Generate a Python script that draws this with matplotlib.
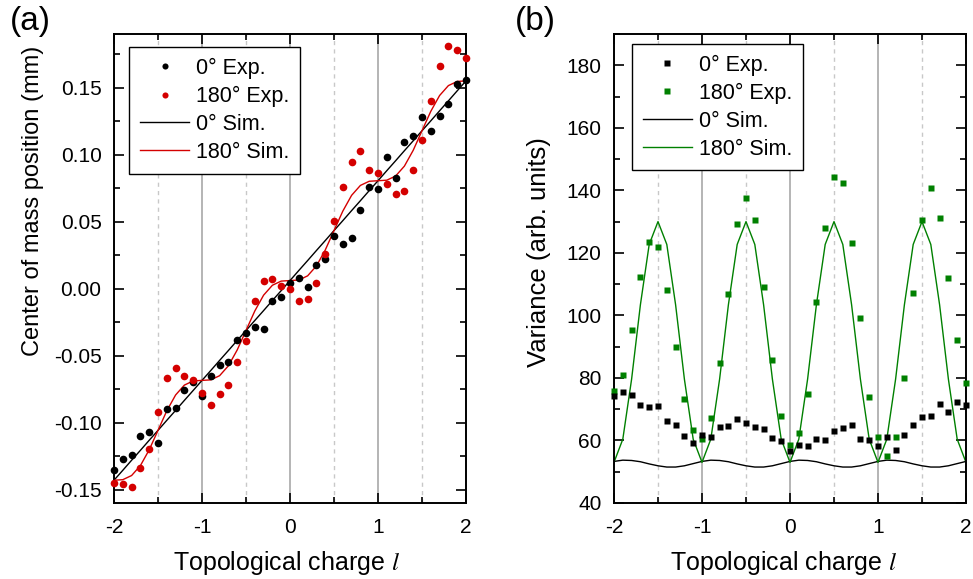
import matplotlib
matplotlib.use("Agg")
import matplotlib.pyplot as plt
from matplotlib.ticker import MultipleLocator, FormatStrFormatter

plt.rcParams['font.family'] = ['Liberation Sans', 'DejaVu Sans']
plt.rcParams['mathtext.fontset'] = 'stix'
plt.rcParams['axes.unicode_minus'] = False

charge = [-2.0, -1.9, -1.8, -1.7, -1.6, -1.5, -1.4, -1.3, -1.2, -1.1,
          -1.0, -0.9, -0.8, -0.7, -0.6, -0.5, -0.4, -0.3, -0.2, -0.1,
          0.0, 0.1, 0.2, 0.3, 0.4, 0.5, 0.6, 0.7, 0.8, 0.9,
          1.0, 1.1, 1.2, 1.3, 1.4, 1.5, 1.6, 1.7, 1.8, 1.9, 2.0]

# Panel (a): center of mass position (mm)
com_exp_0 = [-0.135, -0.127, -0.124, -0.110, -0.107, -0.115, -0.090, -0.089, -0.076, -0.070,
             -0.080, -0.065, -0.057, -0.055, -0.038, -0.033, -0.029, -0.030, -0.009, -0.006,
             0.0045, 0.008, 0.0013, 0.0175, 0.022, 0.039, 0.033, 0.0375, 0.059, 0.076,
             0.0746, 0.098, 0.0826, 0.1095, 0.114, 0.128, 0.1174, 0.129, 0.138, 0.1527, 0.1557]
com_exp_180 = [-0.145, -0.146, -0.148, -0.134, -0.120, -0.092, -0.067, -0.059, -0.065, -0.068,
               -0.078, -0.087, -0.079, -0.072, -0.0545, -0.039, -0.0095, 0.0057, 0.0072, 0.0022,
               -0.0003, -0.0095, -0.008, 0.0045, 0.0257, 0.0507, 0.0761, 0.0948, 0.103, 0.0886,
               0.0863, 0.0781, 0.0709, 0.0726, 0.0886, 0.1107, 0.1403, 0.1659, 0.1808, 0.1781, 0.1722]
com_sim_0 = [-0.1430, -0.1356, -0.1281, -0.1207, -0.1132, -0.1058, -0.0983, -0.0909, -0.0834, -0.0760,
             -0.0685, -0.0611, -0.0536, -0.0462, -0.0387, -0.0313, -0.0238, -0.0164, -0.0089, -0.0015,
             0.0060, 0.0135, 0.0209, 0.0284, 0.0358, 0.0433, 0.0507, 0.0582, 0.0656, 0.0731,
             0.0805, 0.0880, 0.0954, 0.1029, 0.1103, 0.1178, 0.1252, 0.1327, 0.1401, 0.1476, 0.1550]
com_sim_180 = [-0.1430, -0.1426, -0.1395, -0.1321, -0.1203, -0.1058, -0.0912, -0.0794, -0.0720, -0.0689,
               -0.0685, -0.0681, -0.0650, -0.0576, -0.0458, -0.0313, -0.0167, -0.0049, 0.0025, 0.0056,
               0.0060, 0.0064, 0.0095, 0.0169, 0.0287, 0.0433, 0.0578, 0.0696, 0.0770, 0.0801,
               0.0805, 0.0809, 0.0840, 0.0914, 0.1032, 0.1178, 0.1323, 0.1441, 0.1515, 0.1546, 0.1550]

# Panel (b): variance (arb. units)
var_exp_0 = [74.2, 75.5, 74.6, 71.5, 70.8, 71.0, 66.3, 65.0, 61.5, 59.3,
             61.9, 61.0, 64.2, 64.6, 67.0, 65.6, 64.2, 63.6, 60.9, 59.9,
             56.7, 58.6, 58.3, 60.5, 60.0, 62.9, 63.9, 64.9, 60.4, 60.0,
             58.2, 61.0, 56.8, 61.9, 64.9, 67.6, 67.9, 71.6, 69.0, 72.3, 71.4]
var_exp_180 = [75.8, 80.8, 95.3, 112.2, 123.6, 121.9, 108.1, 90.0, 73.4, 63.5,
               60.6, 67.1, 84.7, 106.8, 129.2, 137.7, 130.6, 109.1, 85.8, 67.7,
               58.5, 62.4, 75.0, 104.2, 128.0, 144.4, 142.2, 123.2, 99.2, 73.9,
               61.0, 55.1, 61.0, 80.1, 107.2, 130.6, 140.8, 131.0, 112.1, 92.0, 78.5]
var_sim_0 = [53.3, 53.7, 53.6, 53.2, 52.5, 51.9, 51.5, 51.5, 51.9, 52.6,
             53.3, 53.7, 53.6, 53.2, 52.5, 51.9, 51.5, 51.5, 51.9, 52.6,
             53.3, 53.7, 53.6, 53.2, 52.5, 51.9, 51.5, 51.5, 51.9, 52.6,
             53.3, 53.7, 53.6, 53.2, 52.5, 51.9, 51.5, 51.5, 51.9, 52.6, 53.3]
var_sim_180 = [53.0, 60.4, 79.6, 103.4, 122.7, 130.0, 122.7, 103.4, 79.6, 60.4,
               53.0, 60.4, 79.6, 103.4, 122.7, 130.0, 122.7, 103.4, 79.6, 60.4,
               53.0, 60.4, 79.6, 103.4, 122.7, 130.0, 122.7, 103.4, 79.6, 60.4,
               53.0, 60.4, 79.6, 103.4, 122.7, 130.0, 122.7, 103.4, 79.6, 60.4, 53.0]

labels = ['0° Exp.', '180° Exp.', '0° Sim.', '180° Sim.']
RED = '#d40000'
GREEN = '#008000'
XLABEL = 'Topological charge $\\mathit{l}$'

W, H = 973, 579
fig = plt.figure(figsize=(W / 100, H / 100), dpi=100)
ax1 = fig.add_axes([114 / W, 76 / H, 352 / W, 469 / H])
ax2 = fig.add_axes([614 / W, 76 / H, 352 / W, 469 / H])


def style_axes(ax):
    ax.set_xlim(-2, 2)
    ax.xaxis.set_major_locator(MultipleLocator(1))
    ax.xaxis.set_minor_locator(MultipleLocator(0.5))
    ax.tick_params(which='both', direction='in', top=True, right=True,
                   width=1.2, labelsize=15)
    ax.tick_params(which='major', length=7)
    ax.tick_params(which='minor', length=4)
    ax.tick_params(axis='x', which='major', pad=11)
    ax.tick_params(axis='y', which='major', pad=9)
    ax.grid(True, axis='x', which='major', color='#a8a8a8', lw=1.2, zorder=0)
    ax.grid(True, axis='x', which='minor', color='#c8c8c8', lw=1.0,
            ls=(0, (3, 3)), zorder=0)
    ax.set_axisbelow(True)
    for s in ax.spines.values():
        s.set_linewidth(1.4)
    ax.set_xlabel(XLABEL, fontsize=18)


def make_legend(ax, anchor):
    leg = ax.legend(loc='upper left', bbox_to_anchor=anchor, borderaxespad=0,
                    fontsize=15.5, frameon=True, fancybox=False, edgecolor='black',
                    framealpha=1, labelspacing=0.32, handlelength=2.3,
                    handletextpad=0.3, borderpad=0.5, markerscale=0.8)
    leg.get_frame().set_linewidth(1.0)
    return leg


# Panel (a)
ax1.plot(charge, com_exp_0, 'o', color='black', ms=5.5, mec='none', zorder=3,
         clip_on=False, label=labels[0])
ax1.plot(charge, com_exp_180, 'o', color=RED, ms=5.5, mec='none', zorder=3,
         clip_on=False, label=labels[1])
ax1.plot(charge, com_sim_0, '-', color='black', lw=1.0, zorder=2, label=labels[2])
ax1.plot(charge, com_sim_180, '-', color=RED, lw=1.0, zorder=2, label=labels[3])
style_axes(ax1)
ax1.set_ylim(-0.16, 0.19)
ax1.yaxis.set_major_locator(MultipleLocator(0.05))
ax1.yaxis.set_minor_locator(MultipleLocator(0.025))
ax1.yaxis.set_major_formatter(FormatStrFormatter('%.2f'))
ax1.set_ylabel('Center of mass position (mm)', fontsize=17)
ax1.yaxis.set_label_coords(-0.20, 0.644)
ax1.xaxis.set_label_coords(0.49, -0.098)
make_legend(ax1, (0.043, 0.972))

# Panel (b)
ax2.plot(charge, var_exp_0, 's', color='black', ms=5.0, mec='none', zorder=4,
         clip_on=False, label=labels[0])
ax2.plot(charge, var_exp_180, 's', color=GREEN, ms=5.0, mec='none', zorder=3,
         clip_on=False, label=labels[1])
ax2.plot(charge, var_sim_0, '-', color='black', lw=1.0, zorder=2, label=labels[2])
ax2.plot(charge, var_sim_180, '-', color=GREEN, lw=1.0, zorder=2, label=labels[3])
style_axes(ax2)
ax2.set_ylim(40, 190)
ax2.yaxis.set_major_locator(MultipleLocator(20))
ax2.yaxis.set_minor_locator(MultipleLocator(10))
ax2.set_ylabel('Variance (arb. units)', fontsize=18.5)
ax2.yaxis.set_label_coords(-0.18, 0.534)
ax2.xaxis.set_label_coords(0.483, -0.098)
make_legend(ax2, (0.051, 0.979))

fig.text(10 / W, 1 - 6 / H, '(a)', fontsize=24, ha='left', va='top')
fig.text(515 / W, 1 - 6 / H, '(b)', fontsize=24, ha='left', va='top')

fig.savefig('out.png', dpi=100)
